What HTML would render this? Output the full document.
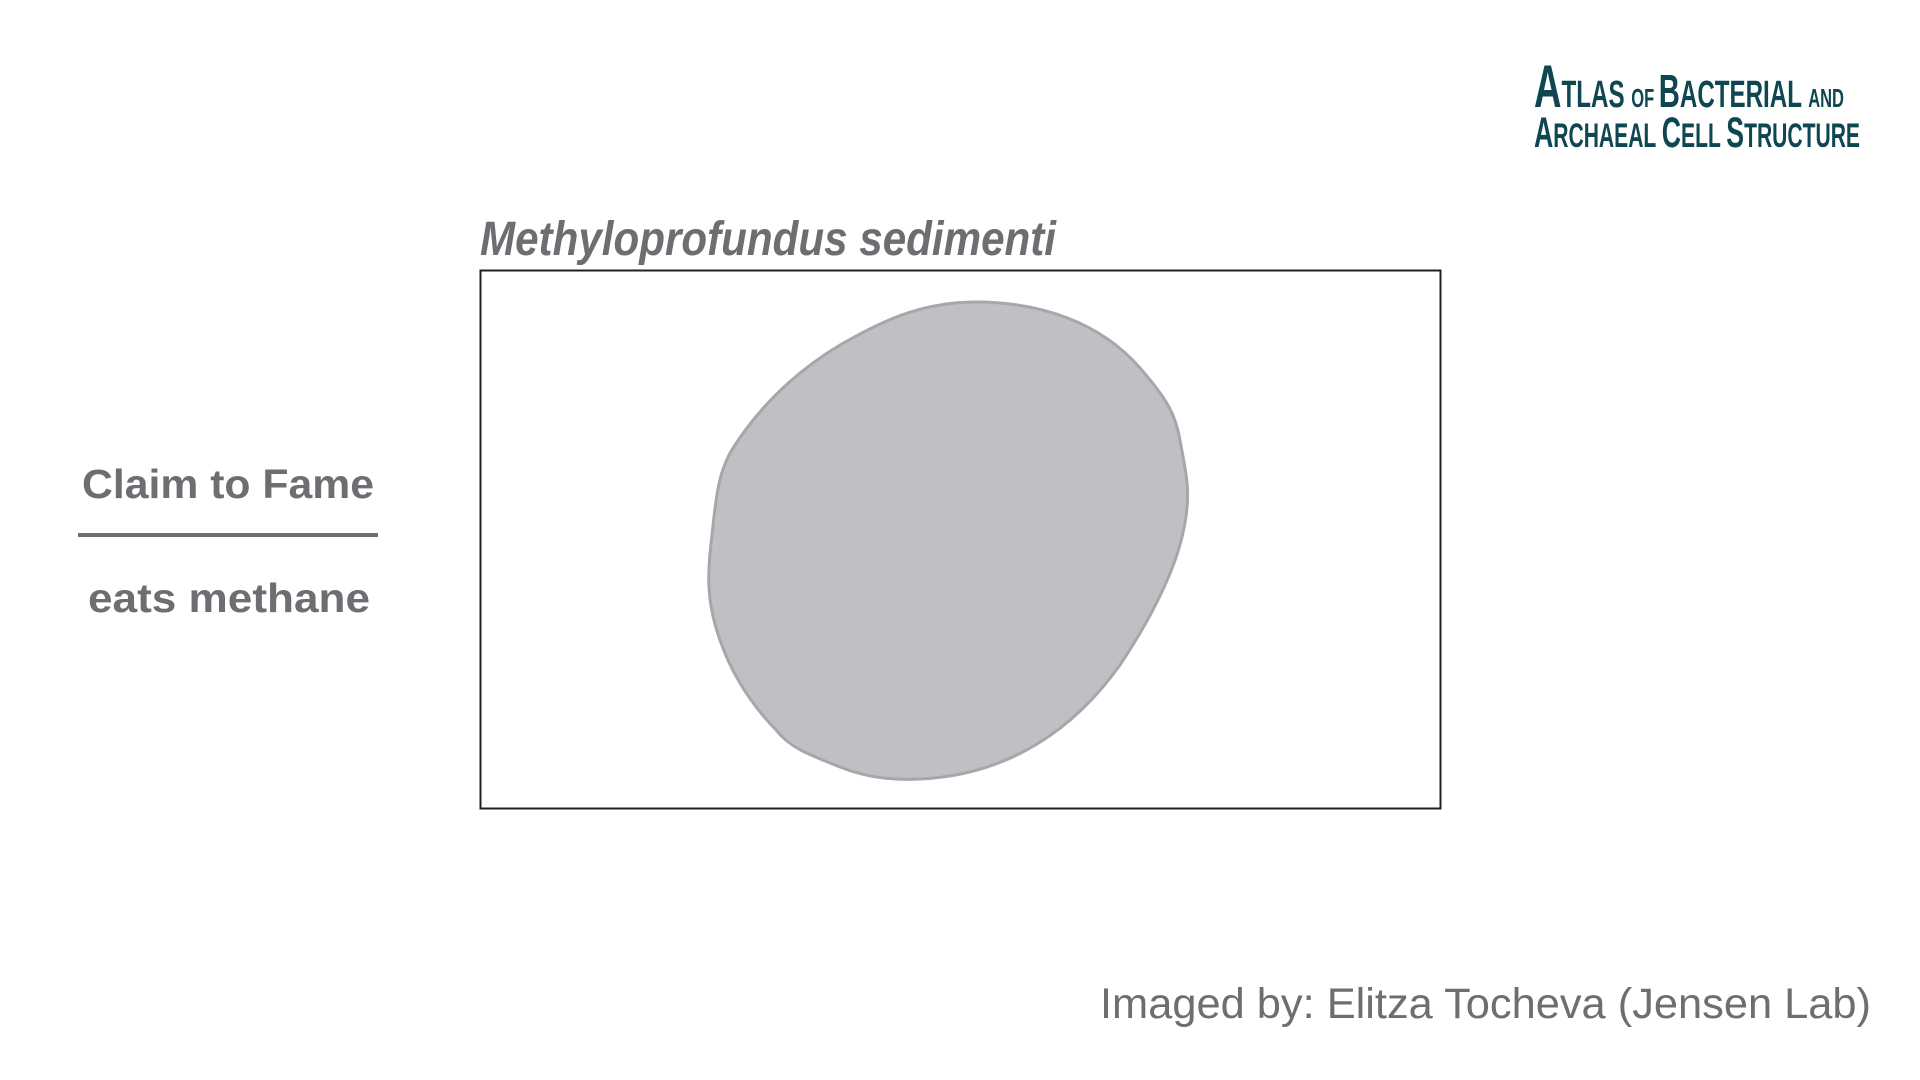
<!DOCTYPE html>
<html><head><meta charset="utf-8"><style>
html,body{margin:0;padding:0;background:#fff;}
svg{display:block;}
</style></head><body>
<svg width="1920" height="1080" viewBox="0 0 1920 1080" font-family="'Liberation Sans', sans-serif">
  <g fill="#0e4651" font-family="'Liberation Sans Narrow','Liberation Sans',sans-serif" font-weight="bold">
    <text x="1534" y="107" font-size="60" textLength="310" lengthAdjust="spacingAndGlyphs">A<tspan font-size="38">TLAS </tspan><tspan font-size="26">OF </tspan><tspan font-size="46">B</tspan><tspan font-size="38">ACTERIAL </tspan><tspan font-size="26">AND</tspan></text>
    <text x="1534" y="147" font-size="43" textLength="326" lengthAdjust="spacingAndGlyphs">A<tspan font-size="34">RCHAEAL </tspan>C<tspan font-size="34">ELL </tspan>S<tspan font-size="34">TRUCTURE</tspan></text>
  </g>
  <text x="480" y="255" font-size="48" font-style="italic" font-weight="bold" fill="#6d6e71" textLength="576" lengthAdjust="spacingAndGlyphs">Methyloprofundus sedimenti</text>
  <rect x="480.5" y="270.5" width="960" height="538" fill="#fff" stroke="#231f20" stroke-width="2"/>
  <path fill="#bec0c3" stroke="#a5a7aa" stroke-width="3"
    d="M976,302 C1040,302 1100,322 1140,368 C1170,402 1176,418 1180,440 C1185,470 1192,490 1184,528 C1176,570 1150,620 1120,665 C1075,728 1010,775 920,779 C885,781 860,775 840,767 C810,755 790,748 776,730 C752,705 732,675 720,640 C705,598 708,570 712,535 C716,498 718,470 735,445 C758,410 790,375 840,345 C880,322 920,302 976,302 Z"/>
  <text x="228" y="498" font-size="41" font-weight="bold" fill="#6d6e71" text-anchor="middle" textLength="292" lengthAdjust="spacingAndGlyphs">Claim to Fame</text>
  <rect x="78" y="533" width="300" height="4" fill="#6d6e71"/>
  <text x="229" y="612" font-size="41" font-weight="bold" fill="#6d6e71" text-anchor="middle" textLength="282" lengthAdjust="spacingAndGlyphs">eats methane</text>
  <text x="1871" y="1018" font-size="43" fill="#6d6e71" text-anchor="end" textLength="771" lengthAdjust="spacingAndGlyphs">Imaged by: Elitza Tocheva (Jensen Lab)</text>
</svg>
</body></html>
